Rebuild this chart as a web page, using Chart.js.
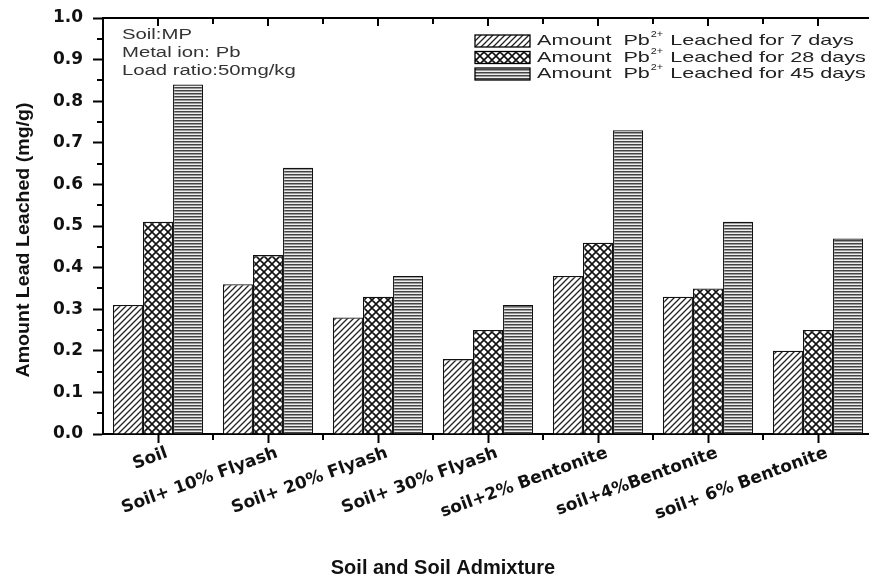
<!DOCTYPE html>
<html>
<head>
<meta charset="utf-8">
<script src="https://cdn.jsdelivr.net/npm/chart.js@4/dist/chart.umd.min.js"></script>
<style>
  body { margin: 0; background: #fff; overflow: hidden; }
  #wrap { width: 880px; height: 584px; }
</style>
</head>
<body>
<div id="wrap"><canvas id="leachChart" width="880" height="584"></canvas></div>
<script>
// data
var categories = ['Soil', 'Soil+ 10% Flyash', 'Soil+ 20% Flyash', 'Soil+ 30% Flyash',
                  'soil+2% Bentonite', 'soil+4%Bentonite', 'soil+ 6% Bentonite'];
var days7  = [0.31, 0.36, 0.28, 0.18, 0.38, 0.33, 0.20];
var days28 = [0.51, 0.43, 0.33, 0.25, 0.46, 0.35, 0.25];
var days45 = [0.84, 0.64, 0.38, 0.31, 0.73, 0.51, 0.47];
var seriesNames = ['Leached for 7 days', 'Leached for 28 days', 'Leached for 45 days'];
var notes = ['Soil:MP', 'Metal ion: Pb', 'Load ratio:50mg/kg'];
var xTitle = 'Soil and Soil Admixture';
var yTitle = 'Amount Lead Leached (mg/g)';

// hatch fills
function makePattern(kind) {
    var c = document.createElement('canvas');
    var g = c.getContext('2d');
    if (kind === 'diag') {
        c.width = c.height = 6;
        g.fillStyle = '#fff'; g.fillRect(0, 0, 6, 6);
        g.strokeStyle = '#222'; g.lineWidth = 1.3;
        g.beginPath();
        g.moveTo(-1, 7); g.lineTo(7, -1);
        g.moveTo(-4, 4); g.lineTo(4, -4);
        g.moveTo(2, 10); g.lineTo(10, 2);
        g.stroke();
    } else if (kind === 'cross') {
        c.width = c.height = 8;
        g.fillStyle = '#fff'; g.fillRect(0, 0, 8, 8);
        g.strokeStyle = '#111'; g.lineWidth = 1.6;
        g.beginPath();
        g.moveTo(-1, 9); g.lineTo(9, -1);
        g.moveTo(-5, 5); g.lineTo(5, -5);
        g.moveTo(3, 13); g.lineTo(13, 3);
        g.moveTo(-1, -1); g.lineTo(9, 9);
        g.moveTo(-5, 3); g.lineTo(5, 13);
        g.moveTo(3, -5); g.lineTo(13, 5);
        g.stroke();
    } else {
        c.width = 4; c.height = 3;
        g.fillStyle = '#444'; g.fillRect(0, 0, 4, 1);
        g.fillStyle = '#999'; g.fillRect(0, 1, 4, 1);
        g.fillStyle = '#eee'; g.fillRect(0, 2, 4, 1);
    }
    return document.createElement('canvas').getContext('2d').createPattern(c, 'repeat');
}
var fills = [makePattern('diag'), makePattern('cross'), makePattern('horiz')];

var FONT = 'Arial, "Liberation Sans", sans-serif';
var WIDE = '"DejaVu Sans", sans-serif';

// text stretched sideways, as in the figure
function wideText(ctx, str, x, y, sx) {
    ctx.save();
    ctx.translate(x, y);
    ctx.scale(sx, 1);
    ctx.fillText(str, 0, 0);
    ctx.restore();
    return ctx.measureText(str).width * sx;
}

// extra axis bits, titles, notes and legend
var decor = {
    id: 'decor',
    afterDraw: function (chart) {
        var ctx = chart.ctx;
        var a = chart.chartArea;
        var x = chart.scales.x, y = chart.scales.y;
        ctx.save();
        ctx.strokeStyle = '#000';
        ctx.lineWidth = 2;
        // top and right frame
        ctx.beginPath(); ctx.moveTo(a.left - 1, a.top); ctx.lineTo(a.right + 1, a.top); ctx.stroke();
        ctx.beginPath(); ctx.moveTo(a.right, a.top); ctx.lineTo(a.right, a.bottom); ctx.stroke();
        // y minor ticks
        for (var v = 0.05; v < 1; v += 0.1) {
            var py = Math.round(y.getPixelForValue(v));
            ctx.beginPath(); ctx.moveTo(a.left - 6, py); ctx.lineTo(a.left, py); ctx.stroke();
        }
        // x ticks: boundaries below, all on top
        var half = (x.getPixelForValue(1) - x.getPixelForValue(0)) / 2;
        for (var i = 0; i < categories.length; i++) {
            var cx = x.getPixelForValue(i);
            var bx = cx + half;
            ctx.beginPath(); ctx.moveTo(bx, a.bottom); ctx.lineTo(bx, a.bottom + 6); ctx.stroke();
            ctx.beginPath(); ctx.moveTo(cx, a.top); ctx.lineTo(cx, a.top + 8); ctx.stroke();
            ctx.beginPath(); ctx.moveTo(bx, a.top); ctx.lineTo(bx, a.top + 6); ctx.stroke();
        }
        // axis titles
        ctx.fillStyle = '#111';
        ctx.textBaseline = 'middle';
        ctx.textAlign = 'center';
        ctx.font = 'bold 20px ' + FONT;
        ctx.fillText(xTitle, 443, 568);
        ctx.save();
        ctx.translate(24, 240);
        ctx.rotate(-Math.PI / 2);
        ctx.font = 'bold 19px ' + FONT;
        var tw = ctx.measureText(yTitle).width;
        ctx.scale(275 / tw, 1);
        ctx.fillText(yTitle, 0, 0);
        ctx.restore();
        // notes top-left
        ctx.fillStyle = '#333';
        ctx.font = '14px ' + FONT;
        ctx.textAlign = 'left';
        for (var n = 0; n < notes.length; n++) {
            wideText(ctx, notes[n], 122, 35 + n * 18, 1.45);
        }
        // legend top-right
        for (var k = 0; k < 3; k++) {
            var ly = 41 + k * 16.5;
            ctx.fillStyle = fills[k];
            ctx.fillRect(475, ly - 6, 55, 12);
            ctx.lineWidth = 1.3;
            ctx.strokeRect(475, ly - 6, 55, 12);
            ctx.fillStyle = '#222';
            ctx.font = '15px ' + FONT;
            var tx = 537;
            tx += wideText(ctx, 'Amount  Pb', tx, ly, 1.44);
            ctx.font = '9px ' + FONT;
            wideText(ctx, '2+', tx + 1, ly - 6, 1.2);
            tx += ctx.measureText('2+').width * 1.2 + 2;
            ctx.font = '15px ' + FONT;
            wideText(ctx, ' ' + seriesNames[k], tx, ly, 1.44);
        }
        ctx.restore();
    }
};

var ctx = document.getElementById('leachChart').getContext('2d');
var myChart = new Chart(ctx, {
    type: 'bar',
    data: {
        labels: categories,
        datasets: [
            { label: seriesNames[0], data: days7,  backgroundColor: fills[0], borderColor: '#111', borderWidth: 1.3 },
            { label: seriesNames[1], data: days28, backgroundColor: fills[1], borderColor: '#111', borderWidth: 1.3 },
            { label: seriesNames[2], data: days45, backgroundColor: fills[2], borderColor: '#111', borderWidth: 1.3 }
        ]
    },
    options: {
        responsive: false,
        animation: false,
        categoryPercentage: 0.82,
        barPercentage: 1.0,
        layout: { padding: { top: 18, right: 7, left: 0, bottom: 0 } },
        plugins: {
            legend: { display: false },
            tooltip: { enabled: false }
        },
        scales: {
            x: {
                afterFit: function (s) { s.height = 150; },
                grid: { offset: false, drawOnChartArea: false, tickLength: 9, tickWidth: 2, tickColor: '#000' },
                border: { display: true, width: 2, color: '#000' },
                ticks: {
                    autoSkip: false, minRotation: 20, maxRotation: 20, padding: 0, labelOffset: 9,
                    color: '#111', font: { family: WIDE, size: 17, weight: 'bold' }
                }
            },
            y: {
                min: 0,
                max: 1,
                afterFit: function (s) { s.width = 103; },
                grid: { drawOnChartArea: false, tickLength: 10, tickWidth: 2, tickColor: '#000' },
                border: { display: true, width: 2, color: '#000' },
                ticks: {
                    stepSize: 0.1, padding: 10, color: '#111',
                    font: { family: WIDE, size: 17, weight: 'bold', lineHeight: 0.9 },
                    callback: function (v) { return Number(v).toFixed(1); }
                }
            }
        }
    },
    plugins: [decor]
});
</script>
</body>
</html>
